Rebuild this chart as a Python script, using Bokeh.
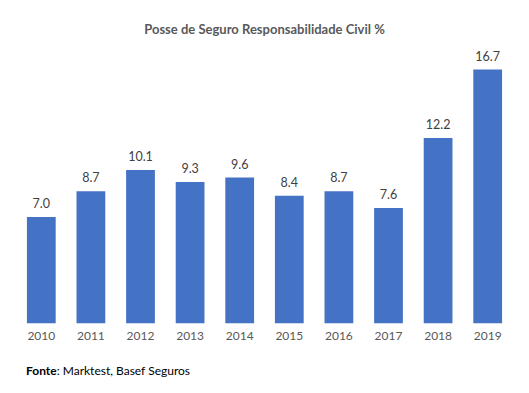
from bokeh.plotting import figure
from bokeh.models import ColumnDataSource, Div, Range1d, FactorRange
from bokeh.layouts import column
from bokeh.core.properties import value
from bokeh.embed import file_html
from bokeh.resources import INLINE

years = ["2010", "2011", "2012", "2013", "2014", "2015", "2016", "2017", "2018", "2019"]
values = [7.0, 8.7, 10.1, 9.3, 9.6, 8.4, 8.7, 7.6, 12.2, 16.7]
labels = [f"{v:.1f}" for v in values]
title_text = "Posse de Seguro Responsabilidade Civil %"

FONT = "Lato"

src = ColumnDataSource(dict(x=years, y=values, lab=labels))

p = figure(width=513, height=350, x_range=FactorRange(*years, range_padding=0),
           y_range=Range1d(0, 18.55), output_backend="svg", toolbar_location=None,
           min_border_left=16, min_border_right=1, min_border_top=41, min_border_bottom=27)
p.title.text = title_text
p.title.align = "center"
p.title.text_font = FONT
p.title.text_font_size = "13px"
p.title.text_color = "#595959"
p.title.text_font_style = "bold"
p.title.standoff = 10
p.title.offset = 4

p.vbar(x="x", top="y", width=0.58, source=src, color="#4472C4", line_color=None)
p.text(x="x", y="y", text="lab", source=src, text_align="center", text_baseline="bottom",
       y_offset=-9, text_font=value(FONT), text_font_size="12.5px", text_color="#404040")

p.yaxis.visible = False
p.xgrid.visible = False
p.ygrid.visible = False
p.outline_line_color = None
p.xaxis.axis_line_color = None
p.xaxis.major_tick_line_color = None
p.xaxis.minor_tick_line_color = None
p.xaxis.major_label_text_font = FONT
p.xaxis.major_label_text_font_size = "12px"
p.xaxis.major_label_text_color = "#595959"
p.xaxis.major_label_standoff = 2

footer = Div(text=f'<span style="font-family:{FONT};font-size:12px;color:#000"><b>Fonte</b>: Marktest, Basef Seguros</span>',
             width=400, height=30, styles={"margin-left": "26px", "margin-top": "12px"})

layout = column(p, footer, spacing=0)
open("out.html", "w").write(file_html(layout, INLINE))
